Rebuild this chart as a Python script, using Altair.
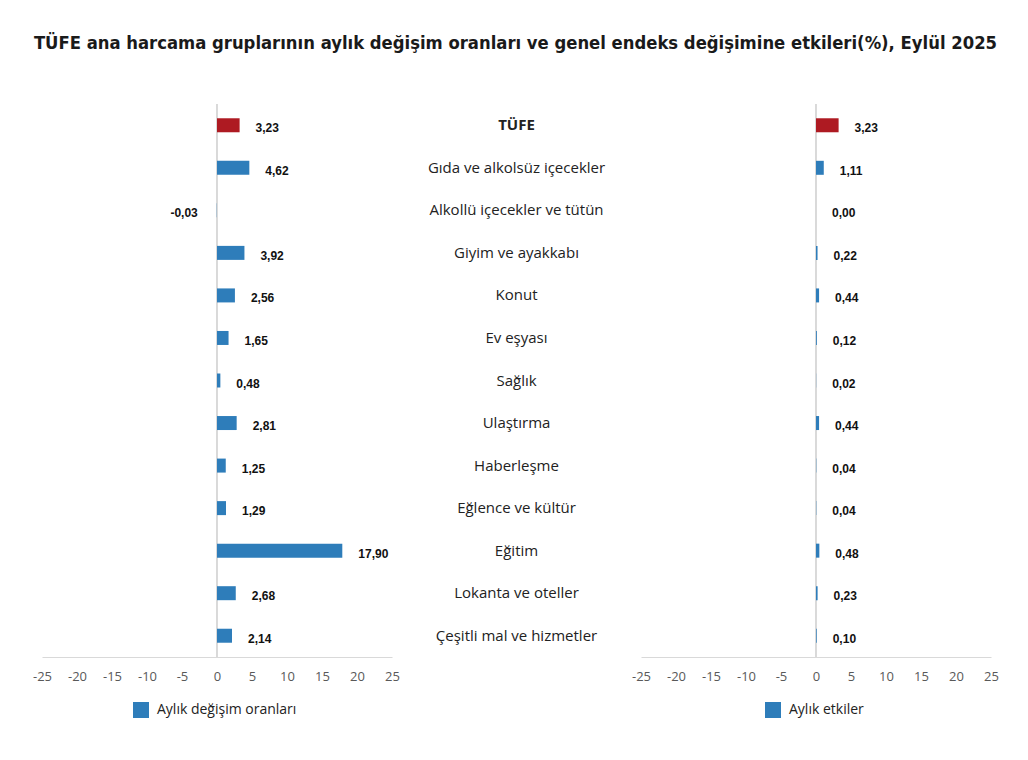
import altair as alt
import pandas as pd

categories = ["TÜFE", "Gıda ve alkolsüz içecekler", "Alkollü içecekler ve tütün",
              "Giyim ve ayakkabı", "Konut", "Ev eşyası", "Sağlık", "Ulaştırma",
              "Haberleşme", "Eğlence ve kültür", "Eğitim", "Lokanta ve oteller",
              "Çeşitli mal ve hizmetler"]
change = [3.23, 4.62, -0.03, 3.92, 2.56, 1.65, 0.48, 2.81, 1.25, 1.29, 17.90, 2.68, 2.14]
effect = [3.23, 1.11, 0.00, 0.22, 0.44, 0.12, 0.02, 0.44, 0.04, 0.04, 0.48, 0.23, 0.10]
series_left = "Aylık değişim oranları"
series_right = "Aylık etkiler"
x_ticks = [-25, -20, -15, -10, -5, 0, 5, 10, 15, 20, 25]

BLUE = "#2E7DBA"
RED = "#AE1A22"
GRID = "#d9d9d9"
FONT = "Open Sans"

LABEL_EXPR = "replace(replace(format(datum.v, '.2f'), '.', ','), '\u2212', '-')"

def make_df(vals, series):
    return pd.DataFrame({
        "cat": categories,
        "v": vals,
        "series": [("TÜFE" if c == "TÜFE" else series) for c in categories],
    })

def panel(vals, series, show_y, legend_x):
    df = make_df(vals, series)
    base = alt.Chart(df)
    xscale = alt.Scale(domain=[-25, 25], nice=False, zero=False)
    yscale = alt.Scale(domain=categories, paddingInner=0, paddingOuter=0)
    if show_y:
        yaxis = alt.Axis(title=None, domain=False, ticks=False, grid=False,
                         labelAlign="center", labelBaseline="middle",
                         labelPadding=125, labelFont=FONT, labelFontSize=15,
                         labelColor="#222222", labelLimit=300,
                         labelFontWeight=alt.expr("datum.value == 'TÜFE' ? 'bold' : 'normal'"))
    else:
        yaxis = None
    xaxis = alt.Axis(title=None, values=x_ticks, domain=True, domainColor=GRID,
                     ticks=False, grid=False, labelFont=FONT, labelFontSize=13,
                     labelColor="#595959", labelPadding=13, labelOverlap=False,
                     labelFlush=False, labelExpr="'' + datum.value")
    X = alt.X("v:Q", scale=xscale, axis=xaxis)
    Y = alt.Y("cat:N", sort=categories, scale=yscale, axis=yaxis)
    bars = base.mark_bar(size=14).encode(
        x=X, y=Y,
        color=alt.Color("series:N",
                        scale=alt.Scale(domain=[series, "TÜFE"], range=[BLUE, RED]),
                        legend=alt.Legend(title=None, values=[series], orient="none",
                                          legendX=legend_x, legendY=598,
                                          symbolType="square", symbolSize=256,
                                          symbolStrokeWidth=0, symbolOpacity=1,
                                          labelFont=FONT, labelFontSize=14,
                                          labelColor="#222222", padding=0,
                                          labelOffset=8, labelLimit=300)),
    )
    zero = base.mark_rule(color=GRID, strokeWidth=1).encode(
        x=alt.datum(0, scale=xscale, axis=xaxis))
    lbl = dict(font="Liberation Sans", fontWeight="bold", fontSize=12, color="#111111", dy=3)
    pos = base.transform_filter("datum.v >= 0").transform_calculate(
        lab=LABEL_EXPR
    ).mark_text(align="left", dx=16, **lbl).encode(x=X, y=Y, text="lab:N")
    neg = base.transform_filter("datum.v < 0").transform_calculate(
        lab=LABEL_EXPR
    ).mark_text(align="right", dx=-19, **lbl).encode(x=X, y=Y, text="lab:N")
    return alt.layer(zero, bars, pos, neg).properties(width=350, height=553)

left = panel(change, series_left, False, 91)
right = panel(effect, series_right, True, 124)

chart = alt.hconcat(left, right, spacing=249, bounds="flush").resolve_scale(
    color="independent", x="independent", y="independent"
).properties(
    title=alt.TitleParams(
        "TÜFE ana harcama gruplarının aylık değişim oranları ve genel endeks değişimine etkileri(%), Eylül 2025",
        font="DejaVu Sans Condensed", fontSize=18.3, fontWeight="bold",
        color="#1a1a1a", anchor="middle", offset=50),
    padding={"left": 24, "top": 26, "right": 5, "bottom": 5},
).configure_view(stroke=None).configure_axisX(labelOverlap=False)

chart.save("out.html", embed_options={"renderer": "svg", "actions": False})
